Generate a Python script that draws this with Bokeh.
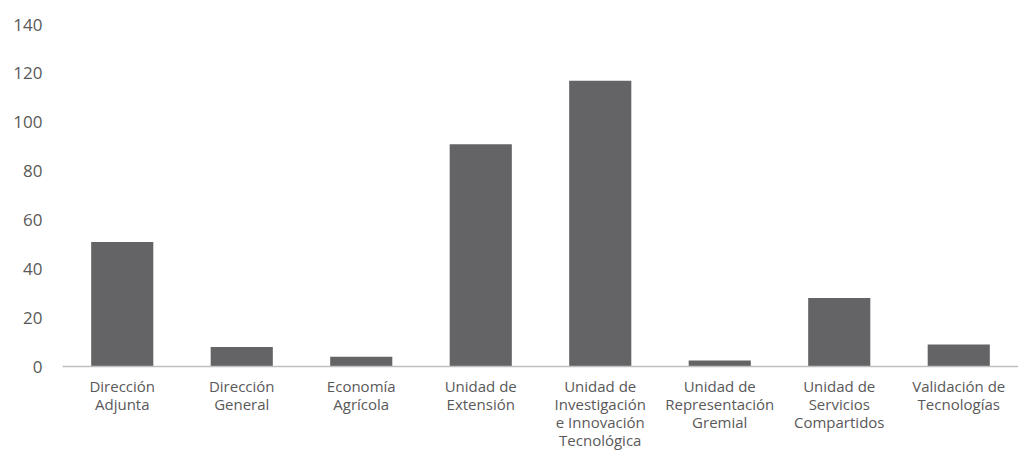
from bokeh.plotting import figure
from bokeh.models import FactorRange
from bokeh.embed import file_html
from bokeh.resources import INLINE

labels = ["Dirección\nAdjunta", "Dirección\nGeneral", "Economía\nAgrícola",
          "Unidad de\nExtensión", "Unidad de\nInvestigación\ne Innovación\nTecnológica",
          "Unidad de\nRepresentación\nGremial", "Unidad de\nServicios\nCompartidos",
          "Validación de\nTecnologías"]
values = [51, 8, 4, 91, 117, 2.5, 28, 9]
y_ticks = [0, 20, 40, 60, 80, 100, 120, 140]

FONT = "Open Sans"
TXT = "#595959"

p = figure(x_range=FactorRange(factors=labels, range_padding=0),
           y_range=(0, 140), width=1018, height=453,
           output_backend="svg", toolbar_location=None,
           min_border_left=62, min_border_right=0, min_border_top=24, min_border_bottom=84)
p.outline_line_color = None
p.vbar(x=labels, top=values, width=0.52, color="#646466", line_color=None)

p.xgrid.grid_line_color = None
p.ygrid.grid_line_color = None

p.xaxis.axis_line_color = "#BFBFBF"
p.xaxis.axis_line_width = 1.3
p.xaxis.major_tick_line_color = None
p.xaxis.minor_tick_line_color = None
p.xaxis.major_tick_out = 0
p.xaxis.major_tick_in = 0
p.xaxis.major_label_standoff = 9
p.xaxis.major_label_text_font = FONT
p.xaxis.major_label_text_font_size = "15px"
p.xaxis.major_label_text_color = TXT
p.xaxis.major_label_text_line_height = 0.91

p.yaxis.ticker = y_ticks
p.yaxis.axis_line_color = None
p.yaxis.major_tick_line_color = None
p.yaxis.minor_tick_line_color = None
p.yaxis.major_tick_out = 0
p.yaxis.major_label_standoff = 20
p.yaxis.major_label_text_font = FONT
p.yaxis.major_label_text_font_size = "17px"
p.yaxis.major_label_text_color = TXT

open("out.html", "w").write(file_html(p, INLINE))
